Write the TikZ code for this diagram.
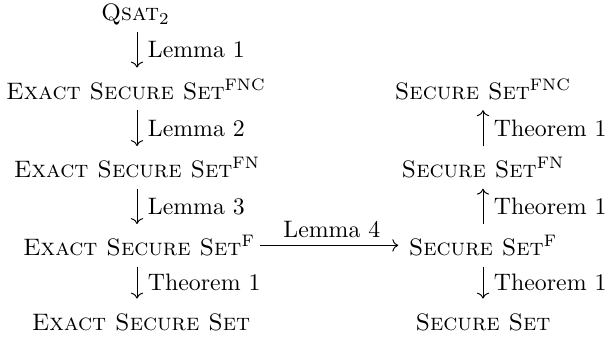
\documentclass[tikz,border=0pt]{standalone}
\usetikzlibrary{arrows.meta}
\begin{document}
\begin{tikzpicture}[x=0.42pt,y=-0.42pt,
  obj/.style={inner sep=0pt, anchor=base, text height=1.2em, text depth=0.35em},
  cdarrow/.style={-{Computer Modern Rightarrow}, line width=0.4pt, shorten <=1pt, shorten >=1pt},
  lbl/.style={anchor=west, inner sep=0pt, xshift=4.4pt}]
\useasboundingbox (0,0) rectangle (608,337);
% left column
\node[obj] (q)  at (135.5,21)  {\textsc{Qsat}$_2$};
\node[obj] (e1) at (136,99)    {\textsc{Exact Secure Set}$^{\mathrm{FNC}}$};
\node[obj] (e2) at (137,177.5) {\textsc{Exact Secure Set}$^{\mathrm{FN}}$};
\node[obj] (e3) at (139,255.5) {\textsc{Exact Secure Set}$^{\mathrm{F}}$};
\node[obj] (e4) at (141,330)   {\textsc{Exact Secure Set}};
% right column
\node[obj] (s1) at (483,99)    {\textsc{Secure Set}$^{\mathrm{FNC}}$};
\node[obj] (s2) at (483,177.5) {\textsc{Secure Set}$^{\mathrm{FN}}$};
\node[obj] (s3) at (483,255.5) {\textsc{Secure Set}$^{\mathrm{F}}$};
\node[obj] (s4) at (483,330)   {\textsc{Secure Set}};
% arrows
\draw[cdarrow] (q.south -| e2.center) -- node[lbl] {Lemma 1} (e1.north -| e2.center);
\draw[cdarrow] (e1.south -| e2.center) -- node[lbl] {Lemma 2} (e2.north);
\draw[cdarrow] (e2.south) -- node[lbl] {Lemma 3} (e3.north -| e2.center);
\draw[cdarrow] (e3.south -| e2.center) -- node[lbl] {Theorem 1} (e4.north -| e2.center);
\draw[cdarrow] (s2.north) -- node[lbl] {Theorem 1} (s1.south);
\draw[cdarrow] (s3.north) -- node[lbl] {Theorem 1} (s2.south);
\draw[cdarrow] (s3.south) -- node[lbl] {Theorem 1} (s4.north);
\draw[cdarrow, shorten <=2pt, shorten >=4.2pt] (e3.east) -- node[anchor=base, inner sep=0pt, yshift=3.4pt] {Lemma 4} (s3.west);
\end{tikzpicture}
\end{document}
